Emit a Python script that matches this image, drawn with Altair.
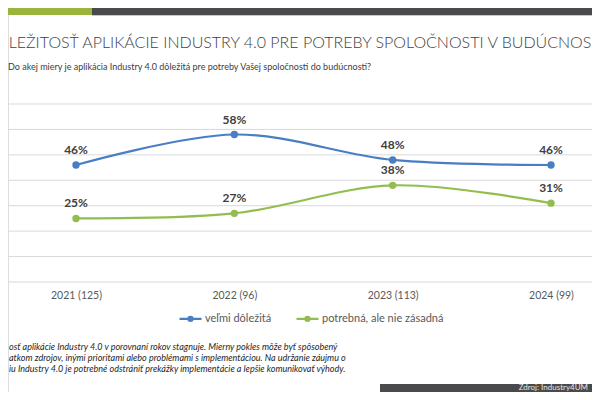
import altair as alt
import pandas as pd

# ---------------- data ----------------
years = ["2021 (125)", "2022 (96)", "2023 (113)", "2024 (99)"]
series_names = ["veľmi dôležitá", "potrebná, ale nie zásadná"]
very_important = [46, 58, 48, 46]
needed_not_crucial = [25, 27, 38, 31]
series_colors = ["#4A7EC4", "#93BD4F"]
grid_values = [0, 10, 20, 30, 40, 50, 60, 70]

# texts as visible in the (cropped) reference
title_text = "LEŽITOSŤ APLIKÁCIE INDUSTRY 4.0 PRE POTREBY SPOLOČNOSTI V BUDÚCNOS"
subtitle_text = "Do akej miery je aplikácia Industry 4.0 dôležitá pre potreby Vašej spoločnosti do budúcnosti?"
note_lines = [
    "osť aplikácie Industry 4.0 v porovnaní rokov stagnuje. Mierny pokles môže byť spôsobený",
    "atkom zdrojov, inými prioritami alebo problémami s implementáciou. Na udržanie záujmu o",
    "iu Industry 4.0 je potrebné odstrániť prekážky implementácie a lepšie komunikovať výhody.",
]
source_text = "Zdroj: Industry4UM"

rows = []
for name, vals in zip(series_names, [very_important, needed_not_crucial]):
    for y, v in zip(years, vals):
        rows.append({"year": y, "series": name, "value": v, "label": f"{v}%"})
df = pd.DataFrame(rows)
grid_df = pd.DataFrame({"value": grid_values})

FONT = "Lato"
W, H = 584, 384

y_scale = alt.Scale(domain=[-43.26, 107.75], nice=False, zero=False)

x_enc = alt.X(
    "year:N",
    sort=years,
    scale=alt.Scale(type="point", domain=years, range=[68, 543], padding=0),
    axis=alt.Axis(
        title=None, domain=False, ticks=False, grid=False, labelAngle=0,
        labelColor="#595959", labelFont=FONT, labelFontSize=10.5,
        labelBaseline="middle", labelPadding=13, offset=-110,
    ),
)
y_enc = alt.Y("value:Q", scale=y_scale, axis=None)

legend_symbol = "M-1,0L1,0M-0.18,0A0.18,0.18,0,1,0,0.18,0A0.18,0.18,0,1,0,-0.18,0"
color_enc = alt.Color(
    "series:N",
    scale=alt.Scale(domain=series_names, range=series_colors),
    legend=alt.Legend(
        orient="none", legendX=170, legendY=298, direction="horizontal",
        title=None, symbolType=legend_symbol, symbolSize=484,
        symbolStrokeWidth=2.4, labelFont=FONT, labelFontSize=11,
        labelColor="#595959", columnPadding=19, labelOffset=2,
    ),
)

gridlines = alt.Chart(grid_df).mark_rule(color="#D9D9D9", strokeWidth=1).encode(
    y=y_enc, x=alt.value(0), x2=alt.value(W)
)

base = alt.Chart(df)
lines = base.mark_line(interpolate="cardinal", strokeWidth=2.2).encode(
    x=x_enc, y=y_enc, color=color_enc
)
points = base.mark_point(filled=True, size=55, opacity=1).encode(
    x=x_enc, y=y_enc, color=color_enc
)
labels = base.mark_text(
    dy=-15, font=FONT, fontSize=12, fontWeight="bold", color="#404040", baseline="middle"
).encode(x=x_enc, y=y_enc, text="label:N")


def one(text):
    return pd.DataFrame({"t": [text]})


one_row = pd.DataFrame({"k": [0]})

header_green = alt.Chart(one_row).mark_rect(color="#9AB43C").encode(
    x=alt.value(0), x2=alt.value(84), y=alt.value(0), y2=alt.value(7)
)
header_dark = alt.Chart(one_row).mark_rect(color="#4A4A4D").encode(
    x=alt.value(84), x2=alt.value(W), y=alt.value(0), y2=alt.value(7)
)
header_line = alt.Chart(one_row).mark_rect(color="#C8C8C8").encode(
    x=alt.value(84), x2=alt.value(W), y=alt.value(7), y2=alt.value(8)
)
footer_dark = alt.Chart(one_row).mark_rect(color="#4A4A4D").encode(
    x=alt.value(372), x2=alt.value(W), y=alt.value(376), y2=alt.value(H)
)

title = alt.Chart(one(title_text)).mark_text(
    font=FONT, fontSize=16, fontWeight=300, color="#3F3F3F", align="center", baseline="alphabetic"
).encode(x=alt.value(292), y=alt.value(40), text="t:N")

subtitle = alt.Chart(one(subtitle_text)).mark_text(
    font=FONT, fontSize=9, color="#404040", align="left", baseline="middle"
).encode(x=alt.value(0), y=alt.value(59), text="t:N")

note_layers = []
for line, yc in zip(note_lines, [339, 350, 361]):
    note_layers.append(
        alt.Chart(one(line)).mark_text(
            font=FONT, fontSize=9, fontStyle="italic", color="#262626",
            align="left", baseline="middle",
        ).encode(x=alt.value(1), y=alt.value(yc), text="t:N")
    )

source = alt.Chart(one(source_text)).mark_text(
    font=FONT, fontSize=8, color="#E6E6E6", align="right", baseline="middle"
).encode(x=alt.value(580), y=alt.value(380), text="t:N")

chart = alt.layer(
    header_green, header_dark, header_line, footer_dark, gridlines,
    lines, points, labels,
    title, subtitle, *note_layers, source,
).properties(
    width=W, height=H, padding=0, autosize=alt.AutoSizeParams(type="none")
).configure_view(stroke=None).configure(background="white")

chart.save("out.html", embed_options={"renderer": "svg", "actions": False})
